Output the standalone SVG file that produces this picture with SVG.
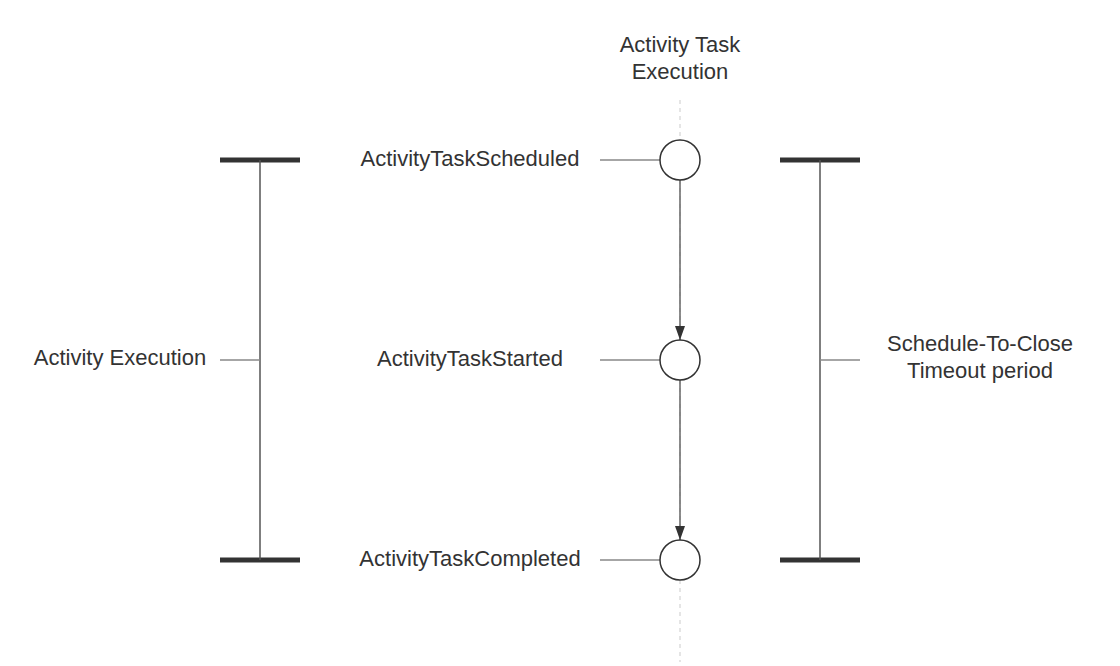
<svg xmlns="http://www.w3.org/2000/svg" width="1120" height="666" viewBox="0 0 1120 666">
<style>
text{font-family:"Liberation Sans",Arial,sans-serif;font-size:22px;fill:#333;text-anchor:middle}
.bar{stroke:#333;stroke-width:5}
.vert{stroke:#555;stroke-width:1.5}
.thin{stroke:#888;stroke-width:1.5}
.node{fill:#fff;stroke:#333;stroke-width:1.5}
.arrow{stroke:#666;stroke-width:1.5;fill:none}
</style>
<defs>
<marker id="ah" viewBox="0 0 10 14" refX="5" refY="14" markerWidth="10" markerHeight="14" markerUnits="userSpaceOnUse" orient="0"><path d="M0,0L10,0L5,14z" fill="#333"/></marker>
</defs>
<rect width="1120" height="666" fill="#fff"/>
<g id="lifeline"><line x1="680" y1="100" x2="680" y2="662" stroke="#ddd" stroke-width="1.5" stroke-dasharray="4,4"/></g>
<g id="title"><text x="680" y="52">Activity Task</text><text x="680" y="79">Execution</text></g>
<g id="left-bracket">
<line class="bar" x1="220" y1="160" x2="300" y2="160"/>
<line class="bar" x1="220" y1="560" x2="300" y2="560"/>
<line class="vert" x1="260" y1="160" x2="260" y2="560"/>
<line class="thin" x1="220" y1="360" x2="260" y2="360"/>
<text x="120" y="365">Activity Execution</text>
</g>
<g id="right-bracket">
<line class="bar" x1="780" y1="160" x2="860" y2="160"/>
<line class="bar" x1="780" y1="560" x2="860" y2="560"/>
<line class="vert" x1="820" y1="160" x2="820" y2="560"/>
<line class="thin" x1="820" y1="360" x2="860" y2="360"/>
<text x="980" y="351">Schedule-To-Close</text>
<text x="980" y="378">Timeout period</text>
</g>
<g id="connectors">
<line class="thin" x1="600" y1="160" x2="660" y2="160"/>
<line class="thin" x1="600" y1="360" x2="660" y2="360"/>
<line class="thin" x1="600" y1="560" x2="660" y2="560"/>
<line class="arrow" x1="680" y1="180" x2="680" y2="340" marker-end="url(#ah)"/>
<line class="arrow" x1="680" y1="380" x2="680" y2="540" marker-end="url(#ah)"/>
</g>
<g id="scheduled"><circle class="node" cx="680" cy="160" r="20"/><text x="470" y="166">ActivityTaskScheduled</text></g>
<g id="started"><circle class="node" cx="680" cy="360" r="20"/><text x="470" y="366">ActivityTaskStarted</text></g>
<g id="completed"><circle class="node" cx="680" cy="560" r="20"/><text x="470" y="566">ActivityTaskCompleted</text></g>
</svg>
